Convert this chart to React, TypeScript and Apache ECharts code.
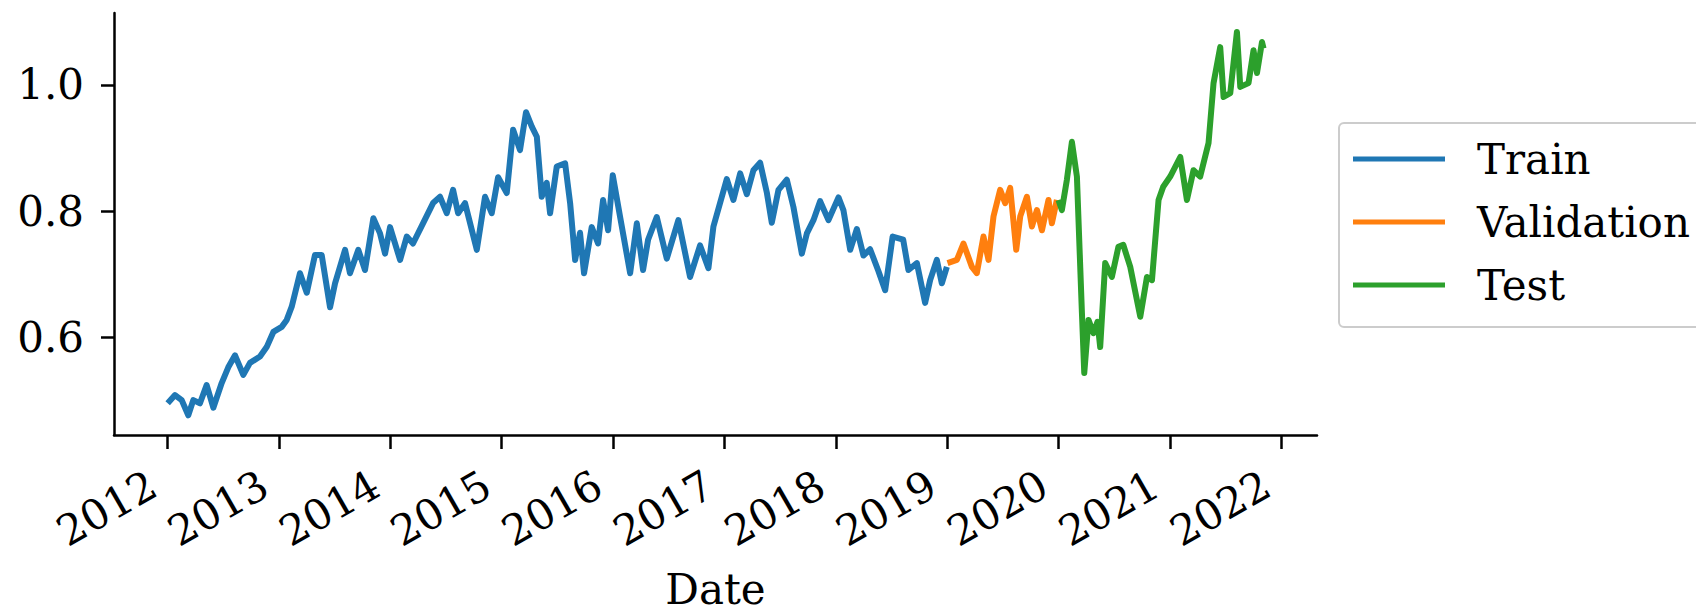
import React, { useEffect, useRef } from "react";
import * as echarts from "echarts";

// Decimal-year dates and values
const trainT = [
  2012.0, 2012.066, 2012.126, 2012.185, 2012.23, 2012.29, 2012.35, 2012.41, 2012.485, 2012.544, 2012.605, 2012.679, 2012.739, 2012.829, 2012.889, 2012.949,
  2013.024, 2013.069, 2013.114, 2013.188, 2013.249, 2013.323, 2013.383, 2013.458, 2013.503, 2013.593, 2013.637, 2013.712, 2013.772, 2013.847, 2013.907, 2013.952, 2013.997,
  2014.087, 2014.147, 2014.203, 2014.293, 2014.383, 2014.446, 2014.506, 2014.563, 2014.608, 2014.67, 2014.776, 2014.85, 2014.91, 2014.967,
  2015.045, 2015.102, 2015.164, 2015.218, 2015.27, 2015.315, 2015.359, 2015.404, 2015.434, 2015.494, 2015.569, 2015.614, 2015.659, 2015.703, 2015.739, 2015.808, 2015.865, 2015.91, 2015.955, 2015.997,
  2016.063, 2016.153, 2016.213, 2016.269, 2016.314, 2016.392, 2016.482, 2016.586, 2016.691, 2016.781, 2016.856, 2016.901,
  2017.021, 2017.08, 2017.141, 2017.201, 2017.26, 2017.32, 2017.38, 2017.425, 2017.485, 2017.56, 2017.619, 2017.695, 2017.74, 2017.799, 2017.859, 2017.934,
  2018.024, 2018.068, 2018.129, 2018.189, 2018.248, 2018.308, 2018.383, 2018.443, 2018.51, 2018.605, 2018.652, 2018.728, 2018.802, 2018.847, 2018.907, 2018.952, 2018.997,
];
const trainV = [
  0.496, 0.509, 0.501, 0.477, 0.501, 0.496, 0.525, 0.489, 0.528, 0.553, 0.572, 0.541, 0.56, 0.57, 0.585, 0.609,
  0.617, 0.628, 0.649, 0.702, 0.671, 0.731, 0.731, 0.648, 0.686, 0.739, 0.702, 0.739, 0.707, 0.789, 0.765, 0.733, 0.775,
  0.723, 0.76, 0.749, 0.781, 0.813, 0.823, 0.797, 0.834, 0.797, 0.813, 0.739, 0.823, 0.797, 0.854,
  0.829, 0.929, 0.897, 0.957, 0.934, 0.918, 0.823, 0.845, 0.797, 0.871, 0.876, 0.813, 0.723, 0.766, 0.702, 0.775, 0.749, 0.818, 0.77, 0.857,
  0.791, 0.702, 0.781, 0.707, 0.755, 0.791, 0.725, 0.786, 0.696, 0.746, 0.71, 0.776,
  0.851, 0.818, 0.86, 0.827, 0.865, 0.877, 0.83, 0.782, 0.834, 0.85, 0.807, 0.733, 0.765, 0.786, 0.816, 0.786,
  0.822, 0.802, 0.739, 0.772, 0.73, 0.74, 0.705, 0.675, 0.76, 0.755, 0.707, 0.718, 0.655, 0.691, 0.723, 0.686, 0.712,
];

const valT = [
  2019.003, 2019.087, 2019.146, 2019.222, 2019.266, 2019.326, 2019.371, 2019.416, 2019.476, 2019.521,
  2019.566, 2019.62, 2019.656, 2019.716, 2019.761, 2019.806, 2019.851, 2019.91, 2019.94, 2019.985,
];
const valV = [
  0.718, 0.723, 0.749, 0.712, 0.702, 0.76, 0.723, 0.792, 0.834, 0.813,
  0.837, 0.739, 0.792, 0.823, 0.776, 0.802, 0.77, 0.818, 0.781, 0.818,
];

const testT = [
  2020.0, 2020.03, 2020.075, 2020.12, 2020.165, 2020.21, 2020.231, 2020.269, 2020.314, 2020.35, 2020.374,
  2020.419, 2020.479, 2020.538, 2020.581, 2020.644, 2020.734, 2020.794, 2020.839, 2020.898, 2020.94,
  2021.003, 2021.093, 2021.153, 2021.212, 2021.272, 2021.347, 2021.392, 2021.452, 2021.482, 2021.542,
  2021.602, 2021.632, 2021.706, 2021.751, 2021.782, 2021.827, 2021.841,
];
const testV = [
  0.818, 0.802, 0.85, 0.91, 0.855, 0.639, 0.544, 0.628, 0.607, 0.625, 0.585,
  0.718, 0.696, 0.744, 0.747, 0.712, 0.633, 0.696, 0.691, 0.818, 0.839,
  0.855, 0.886, 0.818, 0.865, 0.855, 0.908, 1.003, 1.06, 0.981, 0.987,
  1.084, 0.997, 1.003, 1.055, 1.019, 1.068, 1.058,
];

const xTicks = [2012, 2013, 2014, 2015, 2016, 2017, 2018, 2019, 2020, 2021, 2022];
const yTicks = [0.6, 0.8, 1.0];
const seriesNames = ["Train", "Validation", "Test"];
const seriesColors = ["#1f77b4", "#ff7f0e", "#2ca02c"];

export default function App() {
  const ref = useRef<HTMLDivElement>(null);
  useEffect(() => {
    if (!ref.current) return;
    const chart = echarts.init(ref.current, null, { renderer: "svg" });
    const font = "DejaVu Serif";
    const zip = (t: number[], v: number[]) => t.map((x, i) => [x, v[i]]);
    const dataSets = [zip(trainT, trainV), zip(valT, valV), zip(testT, testV)];
    chart.setOption({
      animation: false,
      backgroundColor: "#ffffff",
      textStyle: { fontFamily: font },
      grid: { left: 114, top: 13, right: 379, bottom: 176, containLabel: false, outerBoundsMode: "none" },
      xAxis: {
        type: "value",
        min: 2011.518,
        max: 2022.321,
        name: "Date",
        nameLocation: "middle",
        nameGap: 137,
        nameTextStyle: { fontFamily: font, fontSize: 42, color: "#000", lineHeight: 34 },
        axisLine: { lineStyle: { color: "#000", width: 2.5 } },
        axisTick: { customValues: xTicks, length: 14, lineStyle: { color: "#000", width: 2.5 } },
        axisLabel: {
          customValues: xTicks,
          rotate: 30,
          margin: 38,
          padding: [0, 17, 0, 0],
          fontFamily: font,
          fontSize: 42,
          color: "#000",
          formatter: (v: number) => String(Math.round(v)),
        },
        splitLine: { show: false },
      },
      yAxis: {
        type: "value",
        min: 0.4458,
        max: 1.114,
        axisLine: { show: true, lineStyle: { color: "#000", width: 2.5 } },
        axisTick: { show: true, customValues: yTicks, length: 13, lineStyle: { color: "#000", width: 2.5 } },
        axisLabel: {
          customValues: yTicks,
          margin: 30,
          fontFamily: font,
          fontSize: 42,
          color: "#000",
          formatter: (v: number) => v.toFixed(1),
        },
        splitLine: { show: false },
      },
      legend: {
        orient: "vertical",
        left: 1339,
        top: 123,
        padding: [15, 40, 21, 14],
        itemGap: 21,
        itemWidth: 92,
        itemHeight: 5,
        icon: "rect",
        borderColor: "#cccccc",
        borderWidth: 2,
        borderRadius: 5,
        backgroundColor: "#ffffff",
        data: seriesNames,
        textStyle: { fontFamily: font, fontSize: 42, color: "#000", lineHeight: 42, padding: [0, 0, 0, 27] },
      },
      series: seriesNames.map((name, i) => ({
        name,
        type: "line",
        data: dataSets[i],
        showSymbol: false,
        symbol: "none",
        color: seriesColors[i],
        lineStyle: { color: seriesColors[i], width: 6, join: "round" },
      })),
    });
    return () => chart.dispose();
  }, []);
  return <div ref={ref} style={{ position: "fixed", left: 0, top: 0, width: 1696, height: 611 }} />;
}
